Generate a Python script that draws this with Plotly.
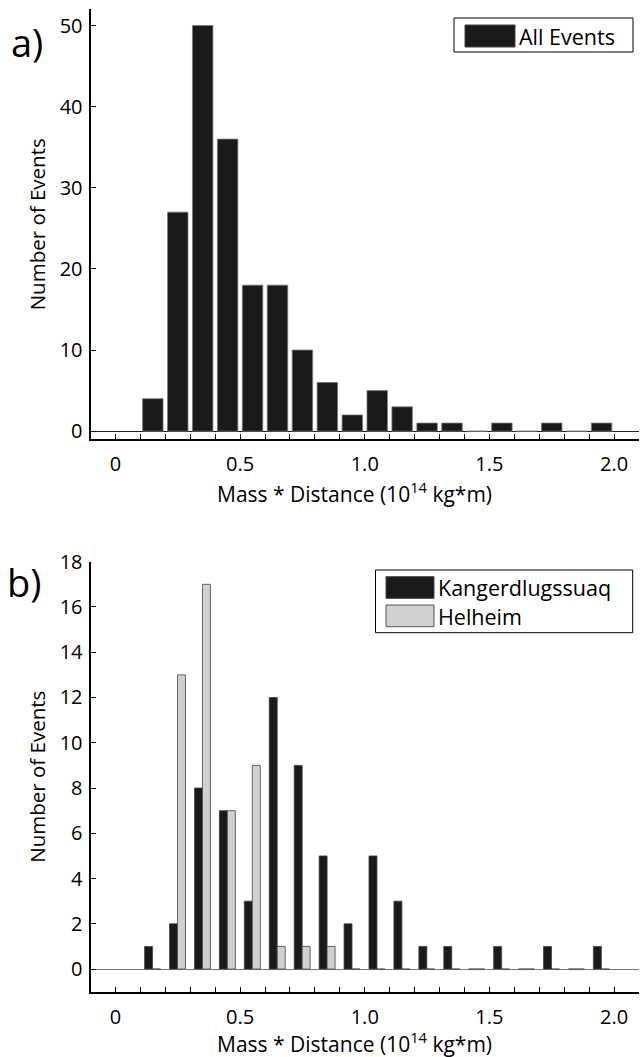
import plotly.graph_objects as go

# ---------------- data ----------------
bin_centers = [0.15, 0.25, 0.35, 0.45, 0.55, 0.65, 0.75, 0.85, 0.95, 1.05,
               1.15, 1.25, 1.35, 1.45, 1.55, 1.65, 1.75, 1.85, 1.95]
all_events = [4, 27, 50, 36, 18, 18, 10, 6, 2, 5, 3, 1, 1, 0, 1, 0, 1, 0, 1]
kanger = [1, 2, 8, 7, 3, 12, 9, 5, 2, 5, 3, 1, 1, 0, 1, 0, 1, 0, 1]
helheim = [0, 13, 17, 7, 9, 1, 1, 1, 0, 0, 0, 0, 0, 0, 0, 0, 0, 0, 0]

x_major_vals = [0, 0.5, 1.0, 1.5, 2.0]
x_major_text = ["0", "0.5", "1.0", "1.5", "2.0"]
x_minor_vals = [round(0.1 * i, 1) for i in range(0, 22)]

W, H = 640, 1057
FONT = "Open Sans"
BLACK = "#1a1a1a"
GREY = "#d0d0d0"
XTITLE = "Mass * Distance (10<sup>14</sup> kg*m)"
YTITLE = "Number of Events"


def px(x):
    return x / W


def py(y):
    return (H - y) / H


fig = go.Figure()
fig.add_trace(go.Bar(x=bin_centers, y=all_events, name="All Events",
                     marker=dict(color=BLACK, line=dict(color="#777", width=0.8)),
                     xaxis="x", yaxis="y", showlegend=False))
fig.add_trace(go.Bar(x=bin_centers, y=kanger, name="Kangerdlugssuaq",
                     marker=dict(color=BLACK, line=dict(color="#444", width=0.8)),
                     width=0.032, offset=-0.033,
                     xaxis="x2", yaxis="y2", showlegend=False))
fig.add_trace(go.Bar(x=bin_centers, y=helheim, name="Helheim",
                     marker=dict(color=GREY, line=dict(color="#444", width=0.8)),
                     width=0.032, offset=-0.001,
                     xaxis="x2", yaxis="y2", showlegend=False))

xdom = [px(90.5), px(639)]
ydom1 = [py(439.3), py(9.3)]
ydom2 = [py(991.7), py(561.7)]
xrange_ = [-0.1, 2.1]

tickfont = dict(family=FONT, size=20, color="black")
titlefont = dict(family=FONT, size=21, color="black")

xbase = dict(range=xrange_, tickmode="array", tickvals=x_major_vals, ticktext=x_major_text,
             ticks="inside", ticklen=5, tickcolor="black", showline=True,
             linecolor="black", linewidth=2, showgrid=False, zeroline=False,
             minor=dict(tickmode="array", tickvals=x_minor_vals, ticks="inside",
                        ticklen=5, tickcolor="black", showgrid=False),
             tickfont=tickfont, ticklabelstandoff=6, domain=xdom, automargin=False)
xmirror = dict(range=xrange_, tickmode="array", tickvals=x_minor_vals, ticks="inside", ticklen=5,
               tickcolor="black", showline=True, linecolor="black", linewidth=1,
               showgrid=False, zeroline=False, showticklabels=False, side="top",
               automargin=False)
ybase = dict(ticks="inside", ticklen=5, tickcolor="black", showline=True,
             linecolor="black", linewidth=2, showgrid=False, zeroline=True,
             tickfont=tickfont, ticklabelstandoff=2, automargin=False,
             title=dict(text=YTITLE, font=dict(family=FONT, size=20.5, color="black"),
                        standoff=8))
ymirror = dict(ticks="inside", ticklen=5, tickcolor="black", showline=True,
               linecolor="black", linewidth=1, showgrid=False, zeroline=False,
               showticklabels=False, side="right", automargin=False)

fig.update_layout(
    width=W, height=H,
    margin=dict(l=0, r=0, t=0, b=0, pad=0),
    paper_bgcolor="white", plot_bgcolor="white",
    bargap=0.18,
    barmode="group",
    xaxis=dict(**xbase, anchor="y"),
    yaxis=dict(**ybase, domain=ydom1, range=[-1, 52], dtick=10, anchor="x",
               zerolinecolor="#222", zerolinewidth=1),
    xaxis2=dict(**xbase, anchor="y2"),
    yaxis2=dict(**ybase, domain=ydom2, range=[-1, 18], dtick=2, anchor="x2",
                zerolinecolor="#777", zerolinewidth=1),
    xaxis3=dict(**xmirror, overlaying="x", anchor="y"),
    yaxis3=dict(**ymirror, overlaying="y", anchor="x", range=[-1, 52], dtick=10),
    xaxis4=dict(**xmirror, overlaying="x2", anchor="y2"),
    yaxis4=dict(**ymirror, overlaying="y2", anchor="x2", range=[-1, 18], dtick=2),
)

annos = []
for label, xl, yc in (("a)", 9, 42), ("b)", 5, 582)):
    annos.append(dict(text=label, x=px(xl), y=py(yc), xanchor="left", yanchor="middle",
                      xref="paper", yref="paper", showarrow=False,
                      font=dict(family=FONT, size=38, color="black")))

for yc in (py(492), py(1042)):
    annos.append(dict(text=XTITLE, x=px(354), y=yc,
                      xref="paper", yref="paper", showarrow=False,
                      xanchor="center", yanchor="middle", font=titlefont))

shapes = []
legfont = dict(family=FONT, size=21.5, color="black")
# legend a
shapes.append(dict(type="rect", x0=px(454), x1=px(633), y0=py(18), y1=py(52),
                   xref="paper", yref="paper", fillcolor="white",
                   line=dict(color="black", width=1)))
shapes.append(dict(type="rect", x0=px(465), x1=px(515), y0=py(25), y1=py(47),
                   xref="paper", yref="paper", fillcolor=BLACK,
                   line=dict(color="#444", width=1)))
annos.append(dict(text="All Events", x=px(517), y=py(36), xref="paper", yref="paper",
                  showarrow=False, xanchor="left", yanchor="middle", font=legfont))
# legend b
shapes.append(dict(type="rect", x0=px(375.5), x1=px(632.7), y0=py(570), y1=py(632.7),
                   xref="paper", yref="paper", fillcolor="white",
                   line=dict(color="black", width=1)))
shapes.append(dict(type="rect", x0=px(386), x1=px(434), y0=py(576.7), y1=py(598.3),
                   xref="paper", yref="paper", fillcolor=BLACK,
                   line=dict(color="#444", width=1)))
shapes.append(dict(type="rect", x0=px(386), x1=px(434), y0=py(605), y1=py(626.7),
                   xref="paper", yref="paper", fillcolor=GREY,
                   line=dict(color="#555", width=1)))
annos.append(dict(text="Kangerdlugssuaq", x=px(436), y=py(587.5), xref="paper", yref="paper",
                  showarrow=False, xanchor="left", yanchor="middle", font=legfont))
annos.append(dict(text="Helheim", x=px(436), y=py(616), xref="paper", yref="paper",
                  showarrow=False, xanchor="left", yanchor="middle", font=legfont))

fig.update_layout(annotations=annos, shapes=shapes)

fig.write_html("out.html", config=dict(displayModeBar=False),
               post_script="document.body.style.margin='0px';document.body.style.padding='0px';")
